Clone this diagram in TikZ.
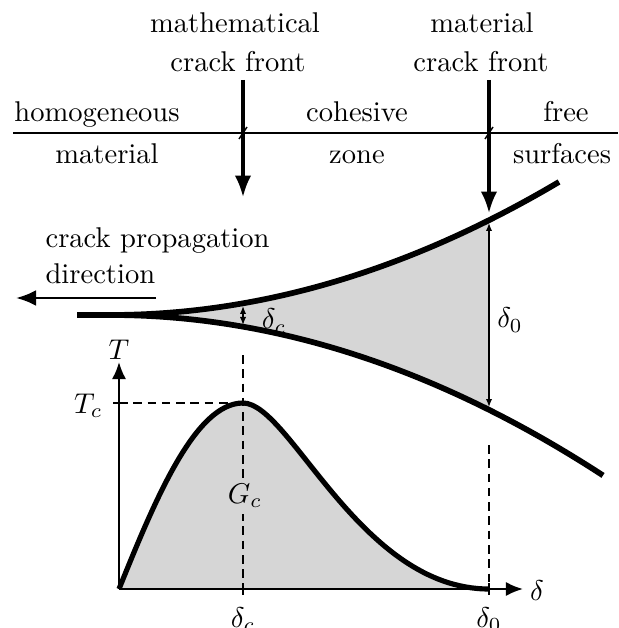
\documentclass[tikz,border=0pt]{standalone}
\usetikzlibrary{arrows.meta}
\begin{document}
\begin{tikzpicture}[x=0.35pt,y=-0.35pt,
  lbl/.style={inner sep=0pt, anchor=base},
  thickcurve/.style={line width=2pt},
  frontarrow/.style={line width=1.1pt,-{Latex[length=7.5pt,width=5.8pt]}},
  gaparrow/.style={line width=0.45pt,{Latex[length=2.8pt,width=2.2pt]}-{Latex[length=2.8pt,width=2.2pt]}},
  axisarrow/.style={line width=0.8pt,-{Latex[length=6pt,width=5pt]}},
  guide/.style={line width=0.5pt,dash pattern=on 3pt off 2pt},
  thinline/.style={line width=0.5pt},
  shade/.style={fill=black!16}]
\useasboundingbox (0,0) rectangle (618,628);

% top labels
\node[lbl] (math1) at (235,33) {mathematical};
\node[lbl] (math2) at (238,72) {crack front};
\node[lbl] (mat1) at (482,33) {material};
\node[lbl] (mat2) at (481,72) {crack front};

% region line
\coordinate (lineL) at (13,133);
\coordinate (lineR) at (618,133);
\draw[thinline] (lineL) -- (lineR);
\coordinate (t1a) at (239,139); \coordinate (t1b) at (247,127);
\coordinate (t2a) at (485,139); \coordinate (t2b) at (493,127);
\draw[thinline] (t1a) -- (t1b);
\draw[thinline] (t2a) -- (t2b);

\node[lbl] (homog) at (97,122) {homogeneous};
\node[lbl] (matl) at (107,164) {material};
\node[lbl] (cohes) at (357,122) {cohesive};
\node[lbl] (zone) at (357,164) {zone};
\node[lbl] (free) at (566,122) {free};
\node[lbl] (surf) at (562,164) {surfaces};

% crack front arrows
\coordinate (mfA) at (243,80); \coordinate (mfB) at (243,197);
\coordinate (mtA) at (489,80); \coordinate (mtB) at (489,213);
\draw[frontarrow] (mfA) -- (mfB);
\draw[frontarrow] (mtA) -- (mtB);

% cohesive zone shading
\fill[shade] plot[domain=110:489,samples=60] (\x,{315-6.6*((\x-110)/100)^2})
  -- plot[domain=489:110,samples=60] (\x,{315+6.6*((\x-110)/100)^2}) -- cycle;

% crack faces
\coordinate (tip) at (77,315);
\draw[thickcurve] (tip) -- plot[domain=110:559,samples=80] (\x,{315-6.6*((\x-110)/100)^2});
\draw[thickcurve] (tip) -- plot[domain=110:603,samples=80] (\x,{315+6.6*((\x-110)/100)^2});

% opening arrows
\coordinate (dcU) at (243,306); \coordinate (dcL) at (243,325);
\coordinate (d0U) at (489,223); \coordinate (d0L) at (489,407);
\draw[gaparrow] (dcU) -- (dcL);
\draw[gaparrow] (d0U) -- (d0L);
\node (dc) at (274,321) {$\delta_c$};
\node (d0) at (510,320) {$\delta_0$};

% propagation direction
\node[lbl,anchor=base west] (cp1) at (45,248) {crack propagation};
\node[lbl,anchor=base west] (cp2) at (45,284) {direction};
\coordinate (pdA) at (156,298); \coordinate (pdB) at (16,298);
\draw[line width=0.9pt,-{Latex[length=7pt,width=5.5pt]}] (pdA) -- (pdB);

% traction-separation law
\coordinate (O) at (119,589);
\coordinate (peak) at (243,403);
\coordinate (end) at (489,589);
\fill[shade] (O) .. controls (155,500) and (195,403) .. (peak)
  .. controls (290,403) and (360,589) .. (end) -- cycle;

\coordinate (g1a) at (243,355); \coordinate (g1b) at (243,589);
\coordinate (g2a) at (119,403);
\coordinate (g3a) at (489,445); \coordinate (g3b) at (489,589);
\draw[guide] (g1a) -- (g1b);
\draw[guide] (g2a) -- (peak);
\draw[guide] (g3a) -- (g3b);
\node[shade,inner sep=2pt] (Gc) at (245,496) {$G_c$};

\draw[line width=1.8pt] (O) .. controls (155,500) and (195,403) .. (peak)
  .. controls (290,403) and (360,589) .. (end);

% axes
\coordinate (Ttip) at (119,362);
\coordinate (dtip) at (523,589);
\draw[axisarrow] (O) -- (Ttip);
\draw[axisarrow] (O) -- (dtip);
\node[inner sep=0pt] (T) at (119,350) {$T$};
\node[inner sep=0pt] (dl) at (537,591) {$\delta$};
\coordinate (tcA) at (113,403); \coordinate (tcB) at (125,403);
\draw[line width=0.8pt] (tcA) -- (tcB);
\node[inner sep=0pt,anchor=east] (Tc) at (103,406) {$T_c$};
\coordinate (k1a) at (243,583); \coordinate (k1b) at (243,595);
\coordinate (k2a) at (489,583); \coordinate (k2b) at (489,595);
\draw[line width=0.8pt] (k1a) -- (k1b);
\draw[line width=0.8pt] (k2a) -- (k2b);
\node[inner sep=0pt,anchor=north] (dcx) at (243,607) {$\delta_c$};
\node[inner sep=0pt,anchor=north] (d0x) at (489,607) {$\delta_0$};
\end{tikzpicture}
\end{document}
